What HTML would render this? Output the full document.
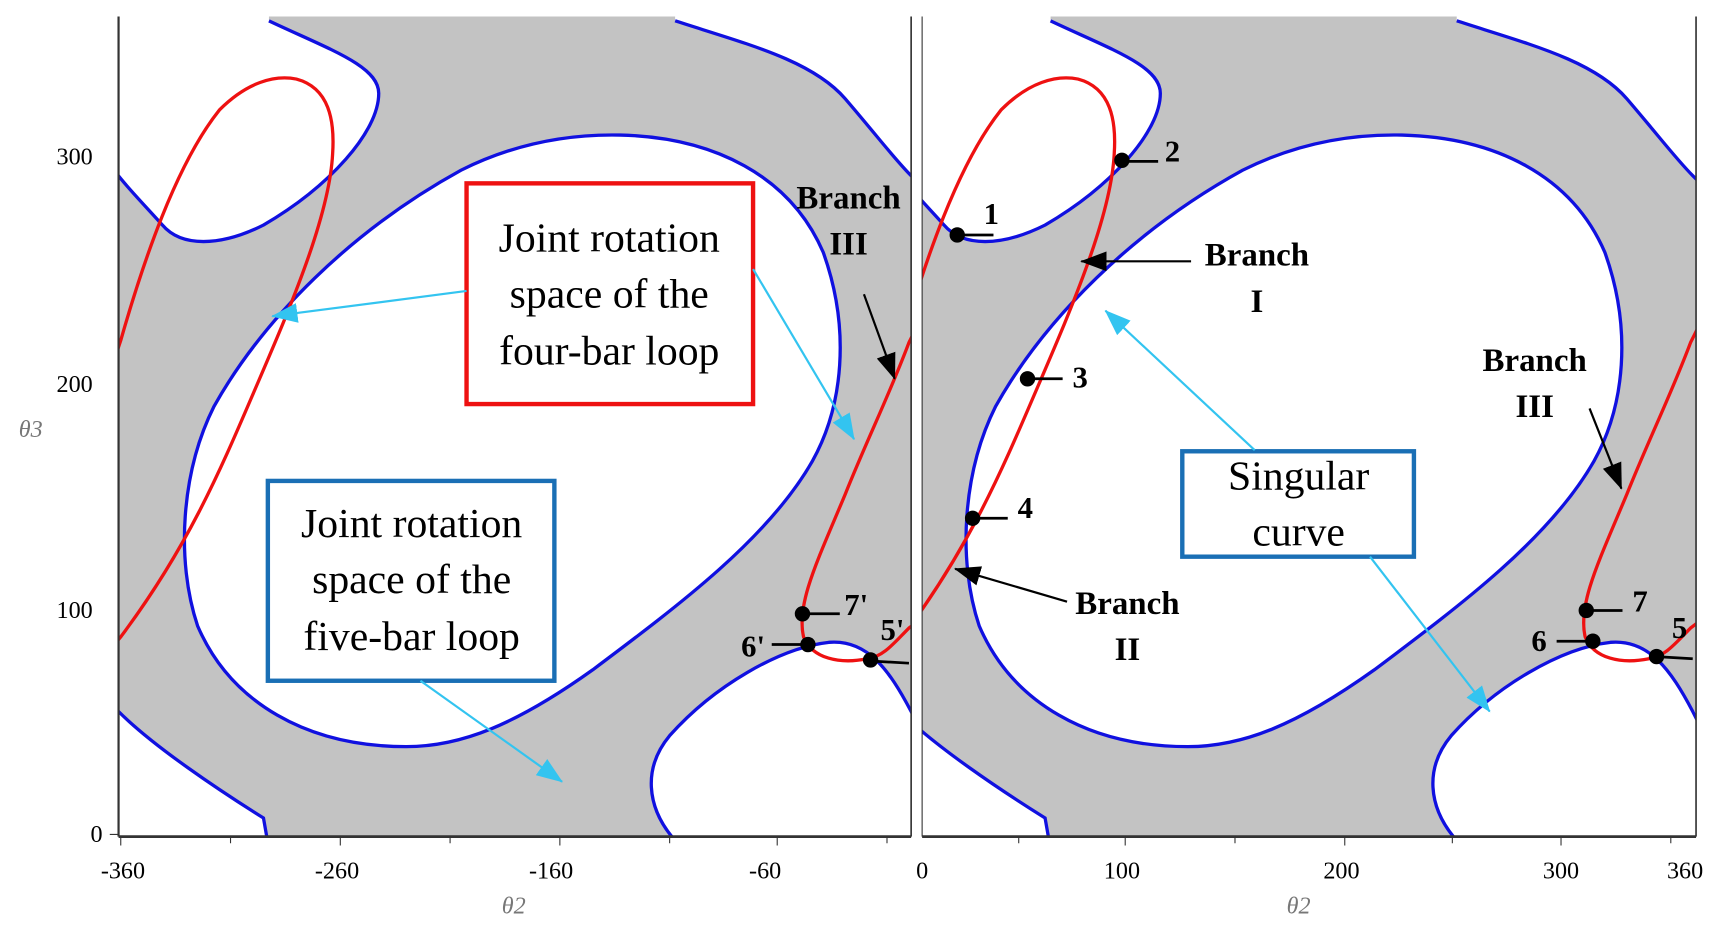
<!DOCTYPE html>
<html><head><meta charset="utf-8"><style>
html,body{margin:0;padding:0;background:#fff;}
svg{display:block;}
text{font-family:"Liberation Serif",serif;}
</style></head><body>
<svg width="1718" height="930" viewBox="0 0 1565 847" preserveAspectRatio="none" xmlns="http://www.w3.org/2000/svg">
<defs>
<clipPath id="cl"><rect x="108" y="15" width="722" height="746"/></clipPath>
<clipPath id="cr"><rect x="840" y="15" width="705" height="746"/></clipPath>
<marker id="ab" viewBox="0 0 24 18" refX="23" refY="9" markerWidth="24" markerHeight="18" markerUnits="userSpaceOnUse" orient="auto"><path d="M0,0 L24,9 L0,18 Z" fill="#000"/></marker>
<marker id="ac" viewBox="0 0 24 18" refX="23" refY="9" markerWidth="24" markerHeight="18" markerUnits="userSpaceOnUse" orient="auto"><path d="M0,0 L24,9 L0,18 Z" fill="#33c4f0"/></marker>
<g id="plot">
<rect x="0" y="15" width="900" height="746" fill="#c3c3c3"/>
<path d="M245,19 C300,45 345,60 345,85 C345,120 300,170 240,205 C200,225 165,225 148,205 C130,185 115,170 108,158 L100,158 L100,10 L245,10 Z" fill="#fff"/>
<path d="M565,123 C650,125 720,160 750,230 C775,300 768,370 740,420 C700,490 620,550 540,610 C470,660 420,680 370,680 C280,680 210,640 180,570 C160,510 165,430 195,370 C240,290 320,210 420,155 C470,130 520,122 565,123 Z" fill="#fff" stroke="#1010e0" stroke-width="3"/>
<path d="M108,648 C140,680 200,720 240,745 L243,762 L100,762 L100,648 Z" fill="#fff"/>
<path d="M612,762 C590,735 585,700 610,670 C650,625 710,590 755,585 C790,582 810,610 830,648 L840,648 L840,762 Z" fill="#fff"/>
<path d="M615,19 C680,40 740,55 770,90 C800,125 815,145 830,160 L840,160 L840,10 L615,10 Z" fill="#fff"/>
<g fill="none" stroke="#1010e0" stroke-width="3">
<path d="M245,19 C300,45 345,60 345,85 C345,120 300,170 240,205 C200,225 165,225 148,205 C130,185 115,170 100,150"/>
<path d="M100,640 L108,648 C140,680 200,720 240,745 L243,762"/>
<path d="M612,762 C590,735 585,700 610,670 C650,625 710,590 755,585 C790,582 810,610 830,648 L836,660"/>
<path d="M615,19 C680,40 740,55 770,90 C800,125 815,145 830,160 L836,166"/>
</g>
<g fill="none" stroke="#ee1111" stroke-width="3">
<path d="M100,340 L110,310 C130,240 160,150 200,100 C225,75 250,68 270,72 C300,80 305,110 303,140 C300,200 260,290 230,360 C200,430 170,500 110,580 L100,592"/>
<path d="M836,296 L828,312 C810,360 790,400 770,450 C745,510 725,550 732,580 C740,600 765,605 790,600 C805,598 815,585 828,572 L836,566"/>
</g>
</g>
</defs>

<g clip-path="url(#cl)"><use href="#plot"/></g>
<g clip-path="url(#cr)"><use href="#plot" transform="translate(712,0)"/></g>

<g stroke="#333" fill="none">
<line x1="108" y1="15" x2="108" y2="762" stroke-width="2"/>
<line x1="830" y1="15" x2="830" y2="762" stroke-width="1.5"/>
<line x1="840" y1="15" x2="840" y2="762" stroke-width="1"/>
<line x1="1545" y1="15" x2="1545" y2="762" stroke-width="1.5"/>
<line x1="108" y1="762" x2="830" y2="762" stroke-width="2.5"/>
<line x1="840" y1="762" x2="1545" y2="762" stroke-width="2.5"/>
<path d="M110,762v8 M210,762v6 M310,762v8 M410,762v6 M510,762v8 M610,762v6 M708,762v8 M808,762v6 M928,762v6 M1025,762v8 M1125,762v6 M1225,762v8 M1323,762v6 M1422,762v8 M1522,762v6 M100,760h8"/>
</g>

<g font-size="22" fill="#000" text-anchor="middle">
<text x="68" y="150">300</text><text x="68" y="357">200</text><text x="68" y="563">100</text><text x="88" y="767">0</text>
<text x="112" y="800">-360</text><text x="307" y="800">-260</text><text x="502" y="800">-160</text><text x="697" y="800">-60</text>
<text x="840" y="800">0</text><text x="1022" y="800">100</text><text x="1222" y="800">200</text><text x="1422" y="800">300</text><text x="1535" y="800">360</text>
</g>
<g font-size="22" fill="#777" font-style="italic" text-anchor="middle">
<text x="28" y="398">θ3</text><text x="468" y="832">θ2</text><text x="1183" y="832">θ2</text>
</g>

<rect x="425" y="167" width="261" height="201" fill="#fff" stroke="#ee1111" stroke-width="4"/>
<g font-size="38" text-anchor="middle" fill="#000">
<text x="555" y="229">Joint rotation</text><text x="555" y="280">space of the</text><text x="555" y="332">four-bar loop</text>
</g>
<rect x="244" y="438" width="261" height="182" fill="#fff" stroke="#1a6fb5" stroke-width="4"/>
<g font-size="38" text-anchor="middle" fill="#000">
<text x="375" y="489">Joint rotation</text><text x="375" y="540">space of the</text><text x="375" y="592">five-bar loop</text>
</g>
<rect x="1077" y="411" width="211" height="96" fill="#fff" stroke="#1a6fb5" stroke-width="4"/>
<g font-size="38" text-anchor="middle" fill="#000">
<text x="1183" y="446">Singular</text><text x="1183" y="497">curve</text>
</g>

<g stroke="#33c4f0" stroke-width="2" fill="none" marker-end="url(#ac)">
<line x1="425" y1="265" x2="248" y2="288"/>
<line x1="686" y1="245" x2="778" y2="400"/>
<line x1="383" y1="620" x2="512" y2="712"/>
<line x1="1143" y1="410" x2="1007" y2="283"/>
<line x1="1248" y1="507" x2="1357" y2="648"/>
</g>

<g stroke="#000" stroke-width="2" fill="none" marker-end="url(#ab)">
<line x1="787" y1="268" x2="815" y2="345"/>
<line x1="1085" y1="238" x2="985" y2="238"/>
<line x1="972" y1="548" x2="870" y2="518"/>
<line x1="1448" y1="372" x2="1477" y2="445"/>
</g>

<g font-size="30" font-weight="bold" text-anchor="middle" fill="#000">
<text x="773" y="190">Branch</text><text x="773" y="232">III</text>
<text x="1145" y="242">Branch</text><text x="1145" y="284">I</text>
<text x="1027" y="559">Branch</text><text x="1027" y="601">II</text>
<text x="1398" y="338">Branch</text><text x="1398" y="380">III</text>
</g>

<g stroke="#000" stroke-width="2.5">
<line x1="731" y1="559" x2="765" y2="559"/><line x1="703" y1="587" x2="736" y2="587"/><line x1="793" y1="602" x2="828" y2="604"/>
<line x1="872" y1="214" x2="905" y2="214"/><line x1="1022" y1="147" x2="1055" y2="147"/><line x1="936" y1="345" x2="968" y2="345"/><line x1="886" y1="472" x2="918" y2="472"/>
<line x1="1445" y1="556" x2="1478" y2="556"/><line x1="1418" y1="584" x2="1451" y2="584"/><line x1="1509" y1="598" x2="1542" y2="600"/>
</g>
<g fill="#000">
<circle cx="731" cy="559" r="7"/><circle cx="736" cy="587" r="7"/><circle cx="793" cy="601" r="7"/>
<circle cx="872" cy="214" r="7"/><circle cx="1022" cy="146" r="7"/><circle cx="936" cy="345" r="7"/><circle cx="886" cy="472" r="7"/>
<circle cx="1445" cy="556" r="7"/><circle cx="1451" cy="584" r="7"/><circle cx="1509" cy="598" r="7"/>
</g>
<g font-size="28" font-weight="bold" text-anchor="middle" fill="#000">
<text x="780" y="560">7'</text><text x="686" y="598">6'</text><text x="813" y="583">5'</text>
<text x="903" y="204">1</text><text x="1068" y="147">2</text><text x="984" y="353">3</text><text x="934" y="472">4</text>
<text x="1494" y="557">7</text><text x="1402" y="593">6</text><text x="1530" y="581">5</text>
</g>
</svg>
</body></html>
